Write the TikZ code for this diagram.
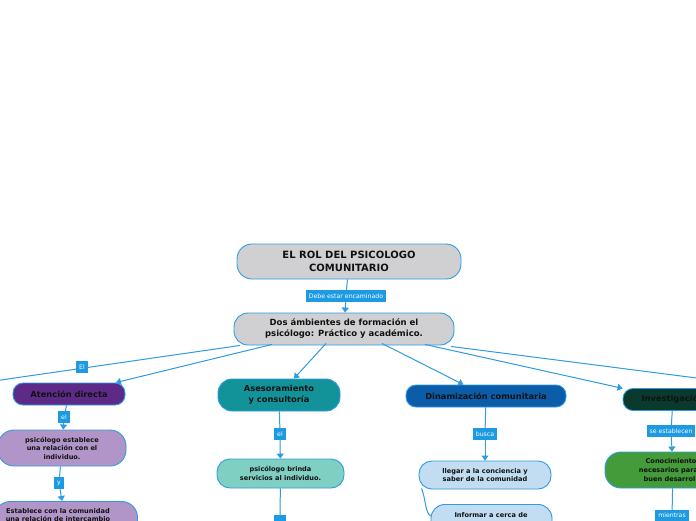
\documentclass[tikz,border=0pt]{standalone}
\usepackage{fontspec}
\setmainfont{DejaVu Sans}
\usetikzlibrary{arrows.meta}
\definecolor{bord}{HTML}{2E9BE3}
\definecolor{lblc}{HTML}{1C9AE2}
\definecolor{gr}{HTML}{D0D0D2}
\definecolor{purp}{HTML}{5E2A88}
\definecolor{lav}{HTML}{B295C8}
\definecolor{teal1}{HTML}{12939A}
\definecolor{teal2}{HTML}{7FCFC3}
\definecolor{dblue}{HTML}{0B5DAA}
\definecolor{lblue}{HTML}{C2DDF1}
\definecolor{dgreen}{HTML}{0A3A2E}
\definecolor{green1}{HTML}{439B3A}
\definecolor{txt}{HTML}{111111}
\tikzset{
  box/.style={draw=bord, line width=0.9pt, align=center, inner sep=0pt, text=txt},
  big/.style={font=\bfseries\fontsize{8.3}{10.8}\selectfont},
  small/.style={font=\bfseries\fontsize{6.6}{8.6}\selectfont},
  lbl/.style={fill=lblc, text=white, font=\fontsize{6.2}{7}\selectfont, inner xsep=3pt, inner ysep=0pt, minimum height=12pt},
  conn/.style={draw=bord, line width=1pt},
  arr/.style={conn, -{Triangle[width=7pt,length=5pt]}},
}
\begin{document}
\begin{tikzpicture}[x=1pt,y=-1pt]
\useasboundingbox (0,0) rectangle (696,520);
\clip (0,0) rectangle (696,520);
\fill[white] (0,0) rectangle (696,520);

% main nodes
\node[box, fill=gr, minimum width=224pt, minimum height=35pt, rounded corners=15pt, font=\bfseries\fontsize{10}{13}\selectfont] (root) at (349,261.5) {EL ROL DEL PSICOLOGO\\COMUNITARIO};
\node[box, fill=gr, minimum width=220pt, minimum height=32pt, rounded corners=14pt, font=\bfseries\fontsize{8.5}{11}\selectfont] (n2) at (344,329) {Dos ámbientes de formación el\\psicólogo: Práctico y académico.};

\node[lbl] (l0) at (346,296) {Debe estar encaminado};
\draw[conn] (root) -- (l0);
\draw[arr] (l0) -- (n2);

% offscreen ends
\coordinate (offL) at (-20,383);
\coordinate (offR) at (720,381);

\node[box, big, fill=purp, minimum width=112pt, minimum height=22pt, rounded corners=10pt] (ad) at (69,394) {Atención directa};
\node[box, big, fill=teal1, minimum width=122pt, minimum height=32pt, rounded corners=14pt] (as) at (279,395) {Asesoramiento\\y consultoría};
\node[box, big, fill=dblue, minimum width=160pt, minimum height=22pt, rounded corners=10pt] (dc) at (486,396) {Dinamización comunitaria};
\node[box, big, fill=dgreen, minimum width=100pt, minimum height=22pt, rounded corners=10pt] (inv) at (673,399.5) {Investigación};

\draw[conn] ([xshift=-104pt]n2.south) -- (offL);
\node[lbl] (lEl) at (82,367) {El};
\draw[arr] ([xshift=-72pt,yshift=1pt]n2.south) -- (ad);
\draw[arr] ([xshift=-18pt,yshift=2pt]n2.south) -- (as);
\draw[arr] ([xshift=38pt,yshift=2pt]n2.south) -- (dc);
\draw[arr] ([xshift=81pt,yshift=1pt]n2.south) -- (inv);
\draw[conn] ([xshift=107pt,yshift=-1pt]n2.south) -- (offR);

% Atencion directa branch
\node[box, small, fill=lav, minimum width=128pt, minimum height=36pt, rounded corners=16pt] (ad1) at (62,448) {psicólogo establece\\una relación con el\\individuo.};
\node[lbl] (l1) at (64,417) {el};
\draw[conn] (ad) -- (l1);
\draw[arr] (l1) -- (ad1);
\node[box, fill=lav, minimum width=143pt, minimum height=46pt, rounded corners=16pt, anchor=north] (ad2) at (66,501) {};
\node[small, text=txt, align=center, anchor=north] (ad2t) at (58,504.5) {Establece con la comunidad\\una relación de intercambio};
\node[lbl] (l2) at (59,483) {y};
\draw[conn] (ad1) -- (l2);
\draw[arr] (l2) -- (ad2);

% Asesoramiento branch
\node[box, small, fill=teal2, minimum width=127pt, minimum height=29pt, rounded corners=13pt] (as1) at (280.5,473.5) {psicólogo brinda\\servicios al individuo.};
\node[lbl] (l3) at (280,434) {el};
\draw[conn] (as) -- (l3);
\draw[arr] (l3) -- (as1);
\node[lbl, minimum width=12pt] (l4) at (280,521) {};
\draw[conn] (as1) -- (l4);

% Dinamizacion branch
\node[box, small, fill=lblue, minimum width=132pt, minimum height=28pt, rounded corners=13pt] (dc1) at (485,475) {llegar a la conciencia y\\saber de la comunidad};
\node[lbl] (l5) at (485,434) {busca};
\draw[conn] (dc) -- (l5);
\draw[arr] (l5) -- (dc1);
\node[box, fill=lblue, minimum width=121pt, minimum height=40pt, rounded corners=14pt, anchor=north] (dc2) at (491.5,504) {};
\node[small, text=txt, align=center, anchor=north] (dc2t) at (491,508.5) {Informar a cerca de};
\draw[conn] ([xshift=3pt,yshift=1pt]dc1.south west) .. controls (426,500) and (425,512) .. ([yshift=-12pt]dc2.north west);

% Investigacion branch
\node[box, small, fill=green1, minimum width=136pt, minimum height=36pt, rounded corners=16pt] (inv1) at (673,470) {Conocimientos\\necesarios para el\\buen desarrollo};
\node[lbl] (l6) at (671,431) {se establecen};
\draw[conn] (inv) -- (l6);
\draw[arr] (l6) -- (inv1);
\node[lbl, minimum height=11pt] (l7) at (672,515.5) {mientras};
\draw[conn] (inv1) -- (l7);
\end{tikzpicture}
\end{document}
